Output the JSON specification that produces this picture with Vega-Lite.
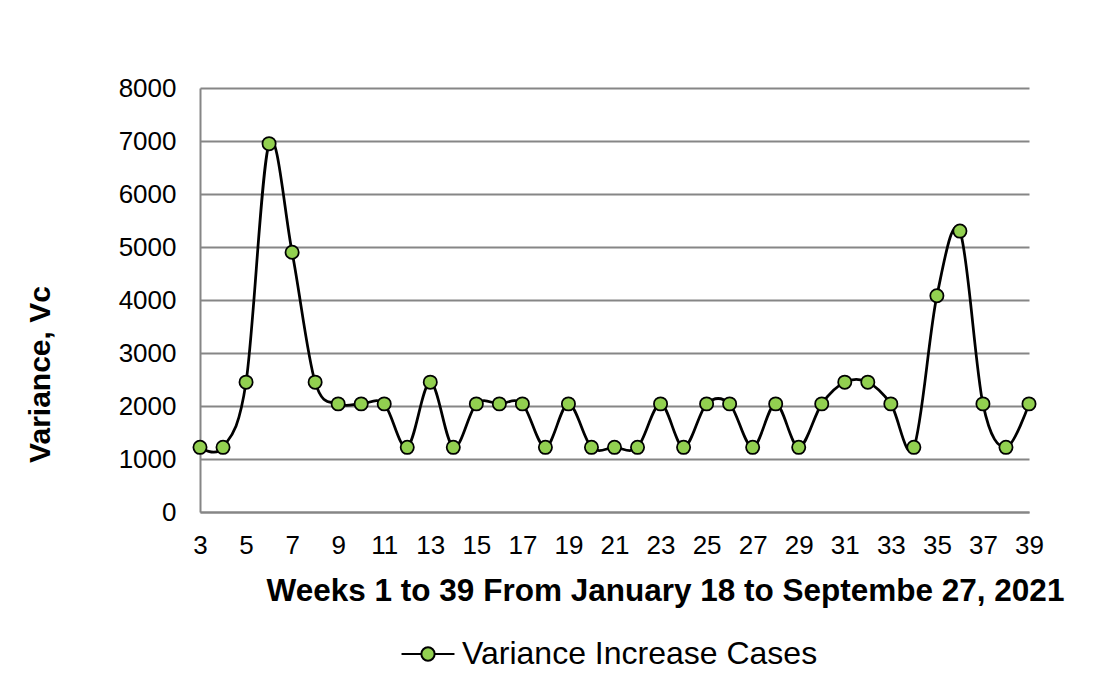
{
  "$schema": "https://vega.github.io/schema/vega-lite/v6.json",
  "width": 829,
  "height": 424,
  "autosize": "none",
  "padding": {"left": 200, "top": 88, "right": 87, "bottom": 167},
  "background": "white",
  "config": {
    "view": {"stroke": null},
    "font": "Liberation Sans"
  },
  "data": {
    "values": [
      {"week": 3, "vc": 1220}, {"week": 4, "vc": 1220}, {"week": 5, "vc": 2450},
      {"week": 6, "vc": 6950}, {"week": 7, "vc": 4900}, {"week": 8, "vc": 2450},
      {"week": 9, "vc": 2040}, {"week": 10, "vc": 2040}, {"week": 11, "vc": 2040},
      {"week": 12, "vc": 1220}, {"week": 13, "vc": 2450}, {"week": 14, "vc": 1220},
      {"week": 15, "vc": 2040}, {"week": 16, "vc": 2040}, {"week": 17, "vc": 2040},
      {"week": 18, "vc": 1220}, {"week": 19, "vc": 2040}, {"week": 20, "vc": 1220},
      {"week": 21, "vc": 1220}, {"week": 22, "vc": 1220}, {"week": 23, "vc": 2040},
      {"week": 24, "vc": 1220}, {"week": 25, "vc": 2040}, {"week": 26, "vc": 2040},
      {"week": 27, "vc": 1220}, {"week": 28, "vc": 2040}, {"week": 29, "vc": 1220},
      {"week": 30, "vc": 2040}, {"week": 31, "vc": 2450}, {"week": 32, "vc": 2450},
      {"week": 33, "vc": 2040}, {"week": 34, "vc": 1220}, {"week": 35, "vc": 4080},
      {"week": 36, "vc": 5300}, {"week": 37, "vc": 2040}, {"week": 38, "vc": 1220},
      {"week": 39, "vc": 2040}
    ]
  },
  "encoding": {
    "x": {
      "field": "week",
      "type": "quantitative",
      "scale": {"domain": [3, 39], "nice": false, "zero": false},
      "axis": {
        "values": [3, 5, 7, 9, 11, 13, 15, 17, 19, 21, 23, 25, 27, 29, 31, 33, 35, 37, 39],
        "grid": false,
        "ticks": false,
        "tickSize": 0,
        "domainColor": "#868686",
        "domainWidth": 2,
        "labelFontSize": 26,
        "labelColor": "black",
        "labelPadding": 20,
        "labelFlush": false,
        "labelOverlap": false,
        "title": "Weeks 1 to 39 From January 18 to Septembe 27, 2021",
        "titleFontSize": 31.5,
        "titleFontWeight": "bold",
        "titleColor": "black",
        "titleX": 465,
        "titleY": 88,
        "titleAlign": "center",
        "titleAnchor": null,
        "titleBaseline": "alphabetic"
      }
    },
    "y": {
      "field": "vc",
      "type": "quantitative",
      "scale": {"domain": [0, 8000], "nice": false},
      "axis": {
        "values": [0, 1000, 2000, 3000, 4000, 5000, 6000, 7000, 8000],
        "grid": true,
        "gridColor": "#868686",
        "gridWidth": 2,
        "ticks": false,
        "tickSize": 0,
        "domainColor": "#868686",
        "domainWidth": 2,
        "labelFontSize": 26,
        "labelColor": "black",
        "labelPadding": 24,
        "labelFlush": false,
        "labelOverlap": false,
        "format": "d",
        "title": "Variance, Vc",
        "titleFontSize": 30,
        "titleFontWeight": "bold",
        "titleColor": "black",
        "titleAngle": 270,
        "titleX": -160,
        "titleY": 286,
        "titleAlign": "center",
        "titleAnchor": null,
        "titleBaseline": "middle"
      }
    }
  },
  "layer": [
    {
      "mark": {"type": "line", "interpolate": "cardinal", "tension": 0, "color": "black", "strokeWidth": 2.75}
    },
    {
      "mark": {"type": "point", "shape": "circle", "filled": true, "size": 175, "stroke": "black", "strokeWidth": 1.75, "opacity": 1},
      "encoding": {
        "fill": {
          "datum": "Variance Increase Cases",
          "type": "nominal",
          "scale": {"range": ["#92D050"]},
          "legend": {
            "title": null,
            "orient": "none",
            "legendX": 209,
            "legendY": 547,
            "padding": 0,
            "symbolType": "M-1.5,0H-0.377M0.377,0H1.5M-0.377,0A0.377,0.377 0 1,1 0.377,0A0.377,0.377 0 1,1 -0.377,0Z",
            "symbolSize": 1246,
            "symbolStrokeColor": "black",
            "symbolStrokeWidth": 2,
            "labelFontSize": 32,
            "labelColor": "black",
            "labelOffset": 15,
            "labelLimit": 600,
            "encode": {
              "symbols": {"update": {"stroke": {"value": "black"}, "strokeWidth": {"value": 2}, "fill": {"value": "#92D050"}, "opacity": {"value": 1}}}
            }
          }
        }
      }
    }
  ]
}
